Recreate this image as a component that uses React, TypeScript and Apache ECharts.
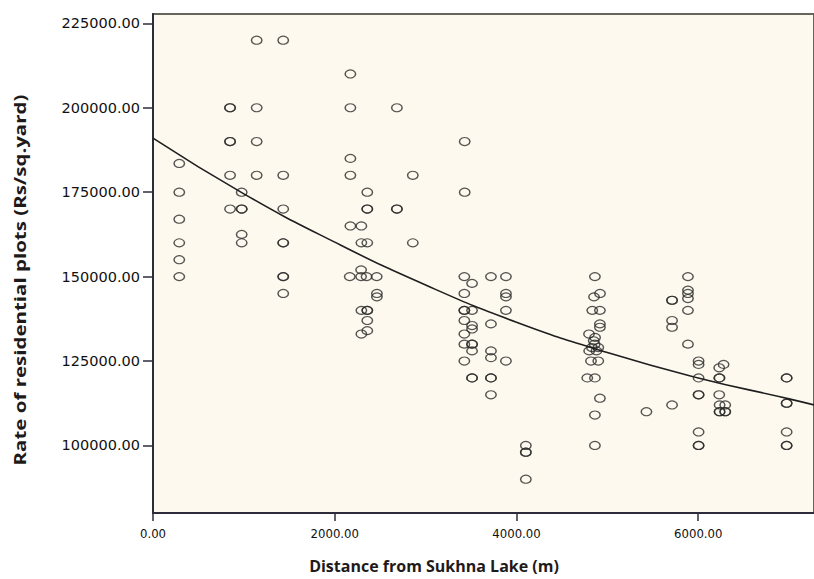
import React, { useEffect, useRef } from "react";
import * as echarts from "echarts";

// Distance from Sukhna Lake (m) and rate (Rs/sq.yard) for each observation
const distances: number[] = [
  // ~300 m
  289, 289, 289, 289, 289, 289,
  // ~850 m
  848, 848, 848, 848, 848, 848,
  // ~970 m
  976, 976, 976, 976, 976,
  // ~1140 m
  1141, 1141, 1141, 1141,
  // ~1430 m
  1433, 1433, 1433, 1433, 1433, 1433, 1433, 1433,
  // ~2170 m
  2172, 2172, 2172, 2172, 2172, 2165,
  // ~2290 m
  2293, 2293, 2290, 2290, 2293, 2293,
  // ~2360 m
  2358, 2358, 2358, 2358, 2350, 2358, 2358, 2358, 2358,
  // ~2460 m
  2462, 2464, 2464,
  // ~2680 m
  2684, 2684, 2684,
  // ~2860 m
  2859, 2859,
  // ~3430 m
  3430, 3430, 3426, 3426, 3426, 3426, 3426, 3426, 3426, 3426,
  // ~3510 m
  3511, 3511, 3511, 3511, 3511, 3511, 3511, 3511, 3511,
  // ~3720 m
  3719, 3719, 3719, 3719, 3719, 3719, 3719,
  // ~3880 m
  3884, 3884, 3884, 3884, 3884,
  // ~4100 m
  4103, 4103, 4103, 4103,
  // ~4850 m
  4863, 4853, 4919, 4834, 4918, 4918, 4918, 4798, 4850, 4860, 4830, 4900,
  4800, 4880, 4865, 4820, 4900, 4779, 4863, 4918, 4863, 4863,
  // ~5430 m
  5430,
  // ~5710 m
  5712, 5712, 5712, 5712, 5712,
  // ~5890 m
  5887, 5887, 5887, 5887, 5887, 5887,
  // ~6000 m
  6004, 6004, 6004, 6004, 6004, 6004, 6004, 6004,
  // ~6240 m
  6231, 6231, 6235, 6231, 6235, 6235, 6235,
  // ~6290 m
  6279, 6297, 6297, 6297,
  // ~6970 m
  6973, 6973, 6973, 6973, 6973, 6973, 6973,
];

const rates: number[] = [
  183500, 175000, 167000, 160000, 155000, 150000,
  200000, 200000, 190000, 190000, 180000, 170000,
  175000, 170000, 170000, 162500, 160000,
  220000, 200000, 190000, 180000,
  220000, 180000, 170000, 160000, 160000, 150000, 150000, 145000,
  210000, 200000, 185000, 180000, 165000, 150000,
  165000, 160000, 152000, 150000, 140000, 133000,
  175000, 170000, 170000, 160000, 150000, 140000, 140000, 137000, 134000,
  150000, 145000, 144000,
  200000, 170000, 170000,
  180000, 160000,
  190000, 175000, 150000, 145000, 140000, 140000, 137000, 133000, 130000, 125000,
  148000, 140000, 135500, 134500, 130000, 130000, 128000, 120000, 120000,
  150000, 136000, 128000, 126000, 120000, 120000, 115000,
  150000, 145000, 144000, 140000, 125000,
  100000, 98000, 98000, 90000,
  150000, 144000, 145000, 140000, 140000, 136000, 135000, 133000, 131000, 130000, 129000, 129000,
  128000, 128000, 132000, 125000, 125000, 120000, 120000, 114000, 109000, 100000,
  110000,
  143000, 143000, 137000, 135000, 112000,
  150000, 146000, 145000, 143500, 140000, 130000,
  125000, 124000, 120000, 115000, 115000, 104000, 100000, 100000,
  123000, 120000, 120000, 115000, 112000, 110000, 110000,
  124000, 112000, 110000, 110000,
  120000, 120000, 112500, 112500, 104000, 100000, 100000,
];

// Fitted curve
const fitDistances: number[] = [0, 1000, 2000, 3000, 4000, 5000, 6000, 7000, 7274];
const fitRates: number[] = [191000, 174500, 160200, 147500, 136500, 127500, 120000, 113800, 112000];

const xTicks: number[] = [0, 2000, 4000, 6000];
const yTicks: number[] = [100000, 125000, 150000, 175000, 200000, 225000];

export default function App() {
  const ref = useRef<HTMLDivElement>(null);

  useEffect(() => {
    if (!ref.current) return;
    const chart = echarts.init(ref.current, null, { renderer: "svg" });

    const scatterData = distances.map((d, i) => [d, rates[i]]);
    const fitData = fitDistances.map((d, i) => [d, fitRates[i]]);

    chart.setOption({
      animation: false,
      backgroundColor: "#ffffff",
      grid: {
        left: 153,
        top: 14,
        right: -2,
        bottom: 66,
        show: true,
        backgroundColor: "#fdf9ee",
        borderColor: "#66665a",
        borderWidth: 2,
      },
      xAxis: {
        type: "value",
        min: 0,
        max: 7274,
        splitLine: { show: false },
        axisLine: { show: true, onZero: false, lineStyle: { color: "#2c2c3c", width: 2 } },
        axisTick: {
          show: true,
          length: 8,
          customValues: xTicks,
          lineStyle: { color: "#2c2c3c", width: 1.5 },
        },
        axisLabel: {
          customValues: xTicks,
          margin: 14,
          color: "#111",
          fontFamily: "'DejaVu Sans Condensed', 'Liberation Sans', sans-serif",
          fontSize: 13,
          formatter: (v: number) => v.toFixed(2),
        },
      },
      yAxis: {
        type: "value",
        min: 80000,
        max: 227760,
        splitLine: { show: false },
        axisLine: { show: true, onZero: false, lineStyle: { color: "#2c2c3c", width: 2 } },
        axisTick: {
          show: true,
          length: 10,
          customValues: yTicks,
          lineStyle: { color: "#2c2c3c", width: 1.5 },
        },
        axisLabel: {
          customValues: yTicks,
          margin: 13,
          color: "#111",
          fontFamily: "'DejaVu Sans', sans-serif",
          fontSize: 14.5,
          formatter: (v: number) => v.toFixed(2),
        },
      },
      series: [
        {
          type: "scatter",
          data: scatterData,
          symbol: "circle",
          symbolSize: [10.5, 8],
          itemStyle: {
            color: "rgba(0,0,0,0)",
            borderColor: "#2a2a2a",
            borderWidth: 1.3,
          },
          z: 3,
        },
        {
          type: "line",
          data: fitData,
          smooth: true,
          symbol: "none",
          lineStyle: { color: "#1e1e1e", width: 1.6 },
          z: 4,
        },
      ],
      graphic: [
        {
          type: "text",
          x: 434,
          y: 566,
          style: {
            text: "Distance from Sukhna Lake (m)",
            font: "bold 16px 'Open Sans', sans-serif",
            fill: "#1f1a1a",
            textAlign: "center",
            textVerticalAlign: "middle",
          },
        },
        {
          type: "text",
          x: 19,
          y: 280,
          rotation: Math.PI / 2,
          scaleX: 1.28,
          style: {
            text: "Rate of residential plots (Rs/sq.yard)",
            font: "bold 16px 'Open Sans', sans-serif",
            fill: "#1f1a1a",
            textAlign: "center",
            textVerticalAlign: "middle",
          },
        },
      ],
    });

    return () => chart.dispose();
  }, []);

  return (
    <div
      ref={ref}
      style={{ position: "fixed", left: 0, top: 0, width: 814, height: 579 }}
    />
  );
}
